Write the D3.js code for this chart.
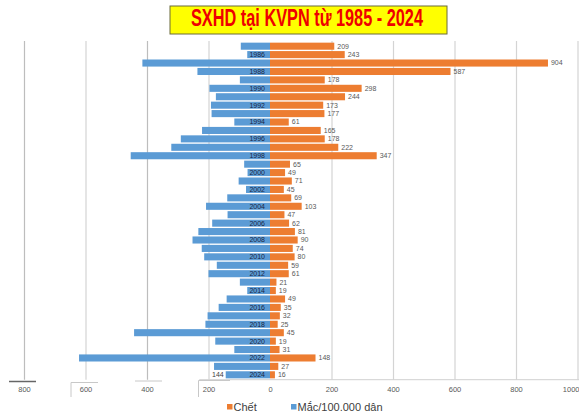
<!DOCTYPE html>
<html>
<head>
<meta charset="utf-8">
<script src="https://cdn.jsdelivr.net/npm/d3@7/dist/d3.min.js"></script>
<style>
  body { margin: 0; background: #fff; }
  svg { display: block; font-family: "Liberation Sans", Arial, sans-serif; }
</style>
</head>
<body>
<svg id="chart" width="579" height="418"></svg>
<script>
// Dengue (SXHD) in the southern region, 1985–2024
const years = [1985,1986,1987,1988,1989,1990,1991,1992,1993,1994,
               1995,1996,1997,1998,1999,2000,2001,2002,2003,2004,
               2005,2006,2007,2008,2009,2010,2011,2012,2013,2014,
               2015,2016,2017,2018,2019,2020,2021,2022,2023,2024];
// Deaths (Chết)
const deaths = [209,243,904,587,178,298,244,173,177,61,
                165,178,222,347,65,49,71,45,69,103,
                47,62,81,90,74,80,59,61,21,19,
                49,35,32,25,45,19,31,148,27,16];
// Cases per 100,000 population (Mắc/100.000 dân)
const incidence = [95,74,415,236,98,197,176,192,190,116,
                   221,290,321,453,84,73,102,78,139,208,
                   138,188,233,252,222,214,173,200,98,74,
                   141,167,203,210,442,178,116,621,182,144];
const xTicks = [-800,-600,-400,-200,0,200,400,600,800,1000];
const yearLabels = [1986,1988,1990,1992,1994,1996,1998,2000,2002,2004,
                    2006,2008,2010,2012,2014,2016,2018,2020,2022,2024];
const titleText = "SXHD tại KVPN từ 1985 - 2024";
const seriesNames = ["Chết", "Mắc/100.000 dân"];
const colors = { deaths: "#ED7D31", incidence: "#5B9BD5" };

const svg = d3.select("#chart");

const x = d3.scaleLinear().domain([-800, 1000]).range([24, 577.5]);
const y = d3.scaleBand().domain(years).range([41.3, 379.7]).padding(0.16);

// vertical gridlines
svg.append("g")
  .attr("transform", "translate(0,379.7)")
  .call(d3.axisBottom(x).tickValues(xTicks).tickSize(-(379.7 - 41)).tickFormat(""))
  .call(g => g.select(".domain").remove())
  .call(g => g.selectAll(".tick line")
    .attr("stroke", d => d < 0 && d % 400 === 0 ? "#bdbdbd" : "#d4d4d4")
    .attr("stroke-width", 1.2)
    .attr("opacity", d => d === 0 ? 0 : 1));

// baseline under the plot
svg.append("line")
  .attr("x1", x(-230)).attr("x2", 579)
  .attr("y1", 379.7).attr("y2", 379.7)
  .attr("stroke", "#d0d0d0").attr("stroke-width", 1);

// small leftover frame strokes along the lower axis
const frame = svg.append("g").attr("fill", "none");
frame.append("line").attr("x1", 9).attr("x2", 36).attr("y1", 381.5).attr("y2", 381.5)
  .attr("stroke", "#666").attr("stroke-width", 1.5);
frame.append("path").attr("d", "M71,397V382.5H98").attr("stroke", "#c8c8c8");
frame.append("line").attr("x1", 135).attr("x2", 162).attr("y1", 381).attr("y2", 381)
  .attr("stroke", "#c8c8c8");
frame.append("path").attr("d", "M198.5,397V380.5H230").attr("stroke", "#c8c8c8");

// bottom tick labels; the outermost one is kept inside the right edge
svg.append("g")
  .attr("transform", "translate(0,382)")
  .call(d3.axisBottom(x).tickValues(xTicks).tickSize(0).tickPadding(5)
    .tickFormat(d => Math.abs(d)))
  .call(g => g.select(".domain").remove())
  .call(g => g.selectAll("text")
    .attr("fill", "#595959")
    .attr("font-size", "7.5px")
    .attr("font-family", "Liberation Sans, Arial, sans-serif")
    .filter(d => d === xTicks[xTicks.length - 1])
    .attr("text-anchor", "end")
    .attr("x", 579 - x(xTicks[xTicks.length - 1])));

// incidence bars (left)
svg.append("g").selectAll("rect")
  .data(years.map((yr, i) => ({ yr, v: incidence[i] })))
  .join("rect")
  .attr("x", d => x(-d.v))
  .attr("y", d => y(d.yr))
  .attr("width", d => x(0) - x(-d.v))
  .attr("height", y.bandwidth())
  .attr("fill", colors.incidence);

// deaths bars (right)
svg.append("g").selectAll("rect")
  .data(years.map((yr, i) => ({ yr, v: deaths[i] })))
  .join("rect")
  .attr("x", x(0))
  .attr("y", d => y(d.yr))
  .attr("width", d => x(d.v) - x(0))
  .attr("height", y.bandwidth())
  .attr("fill", colors.deaths);

// death value labels
svg.append("g").selectAll("text")
  .data(years.map((yr, i) => ({ yr, v: deaths[i] })))
  .join("text")
  .attr("x", d => x(d.v) + 3)
  .attr("y", d => y(d.yr) + y.bandwidth() / 2)
  .attr("dy", "0.35em")
  .attr("font-size", "7px")
  .attr("fill", "#595959")
  .text(d => d.v);

// incidence label on the last year
const lastIdx = years.length - 1;
svg.append("text")
  .attr("x", x(-incidence[lastIdx]) - 2)
  .attr("y", y(years[lastIdx]) + y.bandwidth() / 2)
  .attr("dy", "0.35em")
  .attr("text-anchor", "end")
  .attr("font-size", "7px")
  .attr("fill", "#404040")
  .text(incidence[lastIdx]);

// year labels
svg.append("g").selectAll("text")
  .data(yearLabels)
  .join("text")
  .attr("x", x(0) - 5)
  .attr("y", d => y(d) + y.bandwidth() / 2)
  .attr("dy", "0.35em")
  .attr("text-anchor", "end")
  .attr("font-size", "7px")
  .attr("fill", "#1a2644")
  .text(d => d);

// title box
svg.append("rect")
  .attr("x", 170).attr("y", 6).attr("width", 277).attr("height", 28)
  .attr("fill", "#ffff00").attr("stroke", "#6b6b3a").attr("stroke-width", 1);
svg.append("text")
  .attr("x", 191).attr("y", 26)
  .attr("textLength", 232).attr("lengthAdjust", "spacingAndGlyphs")
  .attr("font-family", "'Liberation Sans Narrow', 'Arial Narrow', 'Liberation Sans', Arial, sans-serif")
  .attr("font-weight", "bold")
  .attr("font-size", "23px")
  .attr("fill", "#ee0000")
  .text(titleText);

// legend
const legend = svg.append("g").attr("font-size", "11px").attr("fill", "#404040");
const legendItems = [
  { name: seriesNames[0], color: colors.deaths, x: 227 },
  { name: seriesNames[1], color: colors.incidence, x: 291 }
];
legendItems.forEach(it => {
  legend.append("rect").attr("x", it.x).attr("y", 404).attr("width", 5.5).attr("height", 5.5)
    .attr("fill", it.color);
  legend.append("text").attr("x", it.x + 6.5).attr("y", 411).text(it.name);
});
</script>
</body>
</html>
